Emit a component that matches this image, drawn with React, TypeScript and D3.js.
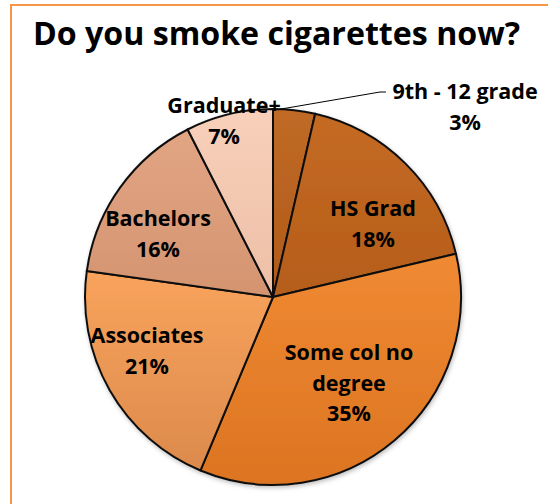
import React from "react";
import * as d3 from "d3";

const categories = ["9th - 12 grade", "HS Grad", "Some col no degree", "Associates", "Bachelors", "Graduate+"];
const values = [3.6, 17.7, 35, 20.9, 15.3, 7.5];
const percentLabels = ["3%", "18%", "35%", "21%", "16%", "7%"];
const title = "Do you smoke cigarettes now?";

const colorsTop = ["#c06a26", "#c46a24", "#f08a32", "#f9a35c", "#e2a584", "#f8d0ba"];
const colorsBottom = ["#b05a1a", "#b55d1a", "#dc7422", "#dc8a4c", "#d49470", "#edbfa6"];

const nameLines = [
  ["9th - 12 grade"],
  ["HS Grad"],
  ["Some col no", "degree"],
  ["Associates"],
  ["Bachelors"],
  ["Graduate+"],
];

export default function App() {
  const W = 548, H = 504;
  const cx = 273, cy = 297, r = 188;
  const pie = d3.pie<number>().sort(null).value((d) => d);
  const arcs = pie(values);
  const arc = d3.arc<d3.PieArcDatum<number>>().innerRadius(0).outerRadius(r);

  const labelPos: [number, number][] = [
    [465, 99],
    [373, 216],
    [349, 360],
    [147, 343],
    [158, 226],
    [224, 113],
  ];
  const lineH = 30.5;
  const fs = 21.5;
  const font = "'Open Sans', Lato, sans-serif";

  const edgeAng = (arcs[0].startAngle + arcs[0].endAngle) / 2;
  const edge = [cx + r * Math.sin(edgeAng), cy - r * Math.cos(edgeAng)];

  return (
    <svg width={W} height={H} style={{ position: "absolute", left: 0, top: 0, background: "#fff" }}>
      <defs>
        {arcs.map((a, i) => (
          <linearGradient key={i} id={`g${i}`} x1="0" y1="0" x2="0" y2="1">
            <stop offset="0%" stopColor={colorsTop[i]} />
            <stop offset="100%" stopColor={colorsBottom[i]} />
          </linearGradient>
        ))}
        <filter id="sh" x="-10%" y="-10%" width="120%" height="120%">
          <feDropShadow dx="1" dy="2" stdDeviation="2" floodColor="#000" floodOpacity="0.25" />
        </filter>
      </defs>
      <rect x={11} y={5} width={W + 20} height={H + 20} fill="#fff" stroke="#f79646" strokeWidth={2} />
      <text x={33} y={45} fontFamily={font} fontWeight={700} fontSize={32} fill="#000"
        textLength={487} lengthAdjust="spacingAndGlyphs">
        {title}
      </text>
      <g transform={`translate(${cx},${cy})`} filter="url(#sh)">
        {arcs.map((a, i) => (
          <path key={i} d={arc(a) || ""} fill={`url(#g${i})`} stroke="#111" strokeWidth={2} strokeLinejoin="round" />
        ))}
      </g>
      <polyline points={`${edge[0] - 14},${edge[1] - 1} 380,92 386,92`} fill="none" stroke="#000" strokeWidth={1} />
      {nameLines.map((lines, i) => {
        const [x, y] = labelPos[i];
        const all = [...lines, percentLabels[i]];
        return (
          <text key={i} textAnchor="middle" fontFamily={font} fontWeight={700} fontSize={fs} fill="#000">
            {all.map((l, j) => (
              <tspan key={j} x={x} y={y + j * lineH}>
                {l}
              </tspan>
            ))}
          </text>
        );
      })}
    </svg>
  );
}
